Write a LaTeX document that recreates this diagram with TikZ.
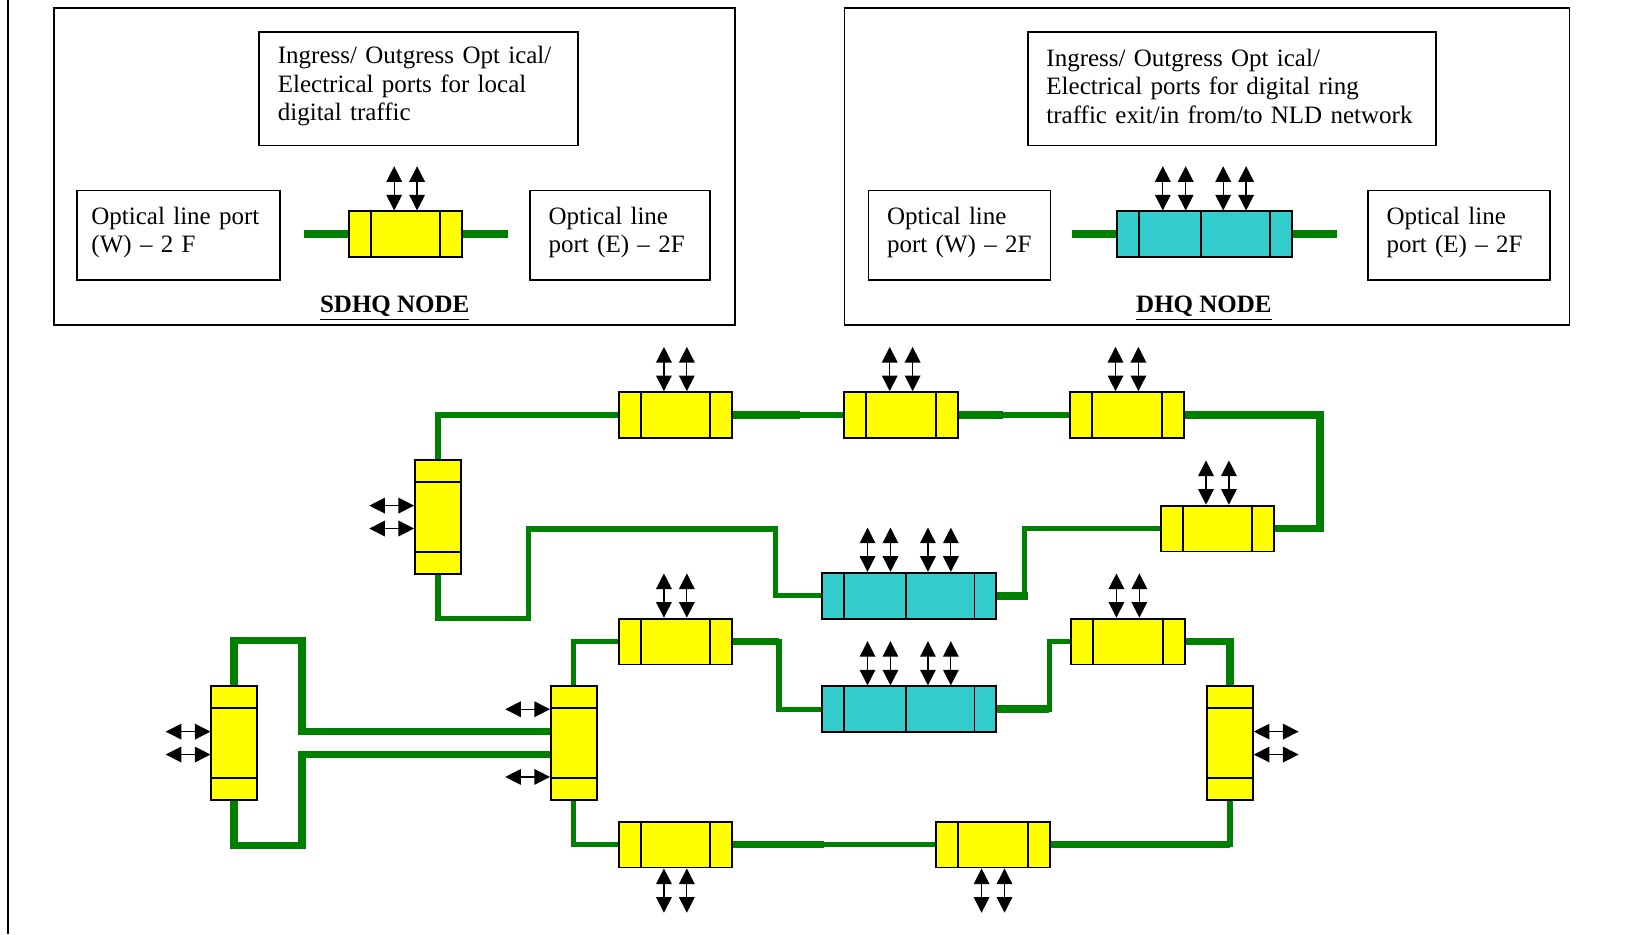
\documentclass[tikz,border=0pt]{standalone}
\usepackage{fontspec}
\setmainfont{Liberation Serif}
\usepackage{tikz}
\usetikzlibrary{arrows.meta, backgrounds, positioning}
\definecolor{sdyellow}{HTML}{FFFF00}
\definecolor{dhcyan}{HTML}{33CCCC}
\definecolor{fibregreen}{HTML}{008000}
\tikzset{
  port_font/.style = {font=\fontsize{12}{13.8}\selectfont},
  box_line/.style = {draw, line width=0.8pt},
  mux_line/.style = {draw, line width=0.9pt}
}
\tikzset{
  frame/.style = {box_line, inner sep=0},
  caption/.style = {port_font, box_line, align=left, anchor=north west, inner xsep=9pt, inner ysep=0,
    execute at end node={\par\vspace{2.5pt}}},
  heading/.style = {font=\fontsize{12}{13.8}\selectfont\bfseries, anchor=base},
  divider/.style = {draw, line width=0.9pt},
  mux/.style = {mux_line, fill=sdyellow, minimum width=54.5pt, minimum height=22pt, inner sep=0,
    append after command={
      ([xshift=11pt]\tikzlastnode.north west) edge[divider] ([xshift=11pt]\tikzlastnode.south west)
      ([xshift=-11pt]\tikzlastnode.north east) edge[divider] ([xshift=-11pt]\tikzlastnode.south east)}},
  mux_v/.style = {mux_line, fill=sdyellow, minimum width=22pt, minimum height=54.5pt, inner sep=0,
    append after command={
      ([yshift=-11pt]\tikzlastnode.north west) edge[divider] ([yshift=-11pt]\tikzlastnode.north east)
      ([yshift=11pt]\tikzlastnode.south west) edge[divider] ([yshift=11pt]\tikzlastnode.south east)}},
  dxc/.style = {mux_line, fill=dhcyan, minimum width=83.75pt, minimum height=22pt, inner sep=0,
    append after command={
      ([xshift=11pt]\tikzlastnode.north west) edge[divider] ([xshift=11pt]\tikzlastnode.south west)
      ([xshift=-1.5pt]\tikzlastnode.north) edge[divider] ([xshift=-1.5pt]\tikzlastnode.south)
      ([xshift=-11pt]\tikzlastnode.north east) edge[divider] ([xshift=-11pt]\tikzlastnode.south east)}},
  port/.style = {<->, >={Triangle[length=7.5pt, width=7.5pt]}, line width=0.6pt},
  fibre/.style = {draw=fibregreen, line width=2.5pt},
  fibre_thick/.style = {fibre, line width=3.7pt}
}
\begin{document}
\begin{tikzpicture}[x=0.5pt, y=-0.5pt]
    \useasboundingbox (0,0) rectangle (1568,897);
    \draw[line width=0.8pt] (8,0) -- (8,897);

    % Legend frames
    \node[frame, minimum width=327pt, minimum height=152pt] (sdhq) at (379,160) {};
    \node[frame, minimum width=348pt, minimum height=152pt] (dhq) at (1159,160) {};

    % Legend texts
    \node[caption, text width=135pt, minimum height=54.5pt] at (248,30) (sdhq_in) {
        Ingress/ Outgress Opt ical/\\
        Electrical ports for local\\
        digital traffic};
    \node[caption, inner xsep=7pt, text width=83.5pt, minimum height=43pt] at (73,182) (sdhq_w) {
        Optical line port\\ (W) -- 2 F};
    \node[caption, text width=68.5pt, minimum height=43pt] at (508,182) (sdhq_e) {
        Optical line\\ port (E) -- 2F};
    \node[caption, text width=178pt, minimum height=54.5pt] at (986,30) (dhq_in) {
        Ingress/ Outgress Opt ical/\\
        Electrical ports for digital ring\\
        traffic exit/in from/to NLD network};
    \node[caption, text width=69.5pt, minimum height=43pt] at (833,182) (dhq_w) {
        Optical line\\ port (W) -- 2F};
    \node[caption, text width=69.5pt, minimum height=43pt] at (1312.5,182) (dhq_e) {
        Optical line\\ port (E) -- 2F};
    \node[heading] at ([yshift=6.5pt]sdhq.south) (sdhq_title) {\underline{SDHQ NODE}};
    \node[heading] at ([xshift=-1.5pt, yshift=6.5pt]dhq.south) (dhq_title) {\underline{DHQ NODE}};

    % Legend nodes
    \node[mux] at (389.5,225) (sdhq_mux) {};
    \node[dxc] at (1156.5,225) (dhq_mux) {};
    \coordinate (sdhq_fw) at (291.5,225);
    \coordinate (sdhq_fe) at (487.5,225);
    \coordinate (dhq_fw) at (1029.5,225);
    \coordinate (dhq_fe) at (1283.5,225);

    % Upper ring
    \node[mux] at (648.5,398.5) (up_1) {};
    \node[mux, right=53pt of up_1] (up_2) {};
    \node[mux, right=53pt of up_2] (up_3) {};
    \node[mux] at (1169,507.5) (up_4) {};
    \node[dxc] at (873,572) (up_dhq) {};
    \node[mux_v] at (420.5,496.5) (up_w) {};

    % Lower ring
    \node[mux] at (648.5,616) (lo_1) {};
    \node[mux] at (1083,616) (lo_2) {};
    \node[dxc] at (873,681) (lo_dhq) {};
    \node[mux_v] at (225,713.5) (far_w) {};
    \node[mux_v] at (551,713.5) (lo_w) {};
    \node[mux_v] at (1181,713.5) (lo_e) {};
    \node[mux] at (648.5,811) (lo_3) {};
    \node[mux] at (953.5,811) (lo_4) {};

    % Tributary ports
    \foreach \n in {sdhq_mux, up_1, up_2, up_3, up_4, lo_1, lo_2}
        \foreach \dx in {-5.5, 5.5}
            \draw[port] ([xshift=\dx pt]\n.north) -- ++(0pt,21.25pt);
    \foreach \n in {dhq_mux, up_dhq, lo_dhq}
        \foreach \dx in {-20, -9, 9, 20}
            \draw[port] ([xshift=\dx pt]\n.north) -- ++(0pt,21.25pt);
    \foreach \n in {lo_3, lo_4}
        \foreach \dx in {-5.5, 5.5}
            \draw[port] ([xshift=\dx pt]\n.south) -- ++(0pt,-21.25pt);
    \foreach \n/\dy in {up_w/5.5, up_w/-5.5, far_w/5.5, far_w/-5.5, lo_w/16.25, lo_w/-16.25}
        \draw[port] ([yshift=\dy pt]\n.west) -- ++(-21.5pt,0pt);
    \foreach \dy in {5.5, -5.5}
        \draw[port] ([yshift=\dy pt]lo_e.east) -- ++(21.5pt,0pt);

    % Fibres
    \begin{scope}[on background layer]
        \draw[fibre_thick] (sdhq_fw) -- (sdhq_mux.west);
        \draw[fibre_thick] (sdhq_mux.east) -- (sdhq_fe);
        \draw[fibre_thick] (dhq_fw) -- (dhq_mux.west);
        \draw[fibre_thick] (dhq_mux.east) -- (dhq_fe);

        \draw[fibre] (up_w.north) |- (up_1.west);
        \draw[fibre] (up_1.east) -- (up_2.west);
        \draw[fibre_thick] (up_1.east) -- ++(32pt,0pt);
        \draw[fibre] (up_2.east) -- (up_3.west);
        \draw[fibre_thick] (up_2.east) -- ++(21pt,0pt);
        \draw[fibre_thick] (up_3.east) -- ++(65pt,0pt) |- (up_4.east);
        \draw[fibre] (up_4.west) -- ++(-65pt,0pt) |- (up_dhq.east);
        \draw[fibre_thick] (up_dhq.east) -- ++(14.5pt,0pt);
        \draw[fibre] (up_dhq.west) -- ++(-22pt,0pt) -- ++(0pt,32pt) -- ++(-118.5pt,0pt)
            -- ++(0pt,-43pt) -| (up_w.south);

        \draw[fibre_thick] (far_w.north) -- ++(0pt,21.5pt) -- ++(32.5pt,0pt) |- ([yshift=5.5pt]lo_w.west);
        \draw[fibre_thick] (far_w.south) -- ++(0pt,-21.5pt) -- ++(32.5pt,0pt) |- ([yshift=-5.5pt]lo_w.west);
        \draw[fibre] (lo_w.north) |- (lo_1.west);
        \draw[fibre] (lo_w.south) |- (lo_3.west);
        \draw[fibre] (lo_1.east) -- ++(22pt,0pt) |- (lo_dhq.west);
        \draw[fibre_thick] (lo_1.east) -- ++(22pt,0pt);
        \draw[fibre] (lo_dhq.east) -- ++(25pt,0pt) |- (lo_2.west);
        \draw[fibre_thick] (lo_dhq.east) -- ++(25pt,0pt);
        \draw[fibre_thick] (lo_2.east) -| (lo_e.north);
        \draw[fibre] (lo_e.south) |- (lo_4.east);
        \draw[fibre_thick] (lo_4.east) -- (lo_4.east -| lo_e.south);
        \draw[fibre] (lo_4.west) -- (lo_3.east);
        \draw[fibre_thick] (lo_3.east) -- ++(43.5pt,0pt);
    \end{scope}
\end{tikzpicture}
\end{document}
